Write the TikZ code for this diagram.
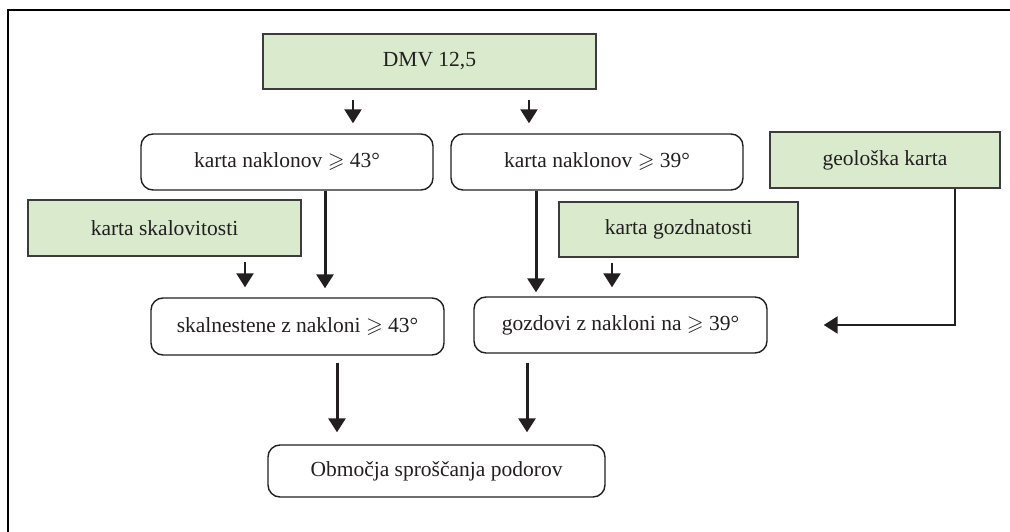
\documentclass[tikz,border=0pt]{standalone}
\usepackage{amssymb}
\usepackage{fontspec}
\setmainfont{Liberation Serif}
\usetikzlibrary{arrows.meta}
\definecolor{boxgreen}{RGB}{217,234,205}
\definecolor{boxedge}{RGB}{60,60,60}
\definecolor{txt}{RGB}{35,31,32}
\tikzset{
  base/.style={font=\fontsize{21.5}{25}\selectfont, text=txt, inner sep=0pt, line width=1.4pt},
  greenbox/.style={base, draw=boxedge, fill=boxgreen},
  roundbox/.style={base, draw=txt, rounded corners=12pt},
  shortarr/.style={line width=2.4pt, draw=txt, -{Triangle[width=17pt,length=14pt]}},
  longarr/.style={line width=3pt, draw=txt, -{Triangle[width=17pt,length=14pt]}},
}
\begin{document}
\begin{tikzpicture}[x=1pt,y=-1pt]
\useasboundingbox (0,0) rectangle (1010,532);
% frame
\draw[line width=2.2pt] (8,532) -- (8,10) -- (1010,10);
% nodes
\node[greenbox, minimum width=333pt, minimum height=55pt] (dmv) at (429.5,61.5) {DMV 12,5};
\node[roundbox, minimum width=292pt, minimum height=56pt] (k43) at (287,162) {karta naklonov $\geqslant$ 43°};
\node[roundbox, minimum width=292pt, minimum height=56pt] (k39) at (597,162) {karta naklonov $\geqslant$ 39°};
\node[greenbox, minimum width=230pt, minimum height=56pt] (geo) at (885,160) {geološka karta};
\node[greenbox, minimum width=273pt, minimum height=56pt] (skal) at (164.5,228) {karta skalovitosti};
\node[greenbox, minimum width=239pt, minimum height=55pt] (goz) at (678.5,229.5) {karta gozdnatosti};
\node[roundbox, minimum width=293pt, minimum height=57pt] (sk43) at (297.5,326.5) {skalnestene z nakloni $\geqslant$ 43°};
\node[roundbox, minimum width=293pt, minimum height=56pt] (gz39) at (620.5,325) {gozdovi z nakloni na $\geqslant$ 39°};
\node[roundbox, minimum width=337pt, minimum height=52pt] (fin) at (436.5,471) {Območja sproščanja podorov};
% x positions of connectors
\coordinate (xa) at (353,0);
\coordinate (xb) at (529,0);
\coordinate (xc) at (325,0);
\coordinate (xd) at (245,0);
\coordinate (xe) at (536,0);
\coordinate (xf) at (612,0);
\coordinate (xg) at (955,0);
\coordinate (xh) at (337,0);
\coordinate (xi) at (527,0);
% connectors
\draw[shortarr, shorten <=10pt, shorten >=10pt] (dmv.south -| xa) -- (k43.north -| xa);
\draw[shortarr, shorten <=10pt, shorten >=10pt] (dmv.south -| xb) -- (k39.north -| xb);
\draw[longarr, shorten >=9pt] (k43.south -| xc) -- (sk43.north -| xc);
\draw[shortarr, shorten <=5pt, shorten >=10pt] (skal.south -| xd) -- (sk43.north -| xd);
\draw[longarr, shorten >=4pt] (k39.south -| xe) -- (gz39.north -| xe);
\draw[shortarr, shorten <=5pt, shorten >=9pt] (goz.south -| xf) -- (gz39.north -| xf);
\draw[longarr, line width=2.6pt, shorten >=56pt] (geo.south -| xg) |- (gz39.east);
\draw[longarr, shorten <=7pt, shorten >=12pt] (sk43.south -| xh) -- (fin.north -| xh);
\draw[longarr, shorten <=9pt, shorten >=12pt] (gz39.south -| xi) -- (fin.north -| xi);
\end{tikzpicture}
\end{document}
